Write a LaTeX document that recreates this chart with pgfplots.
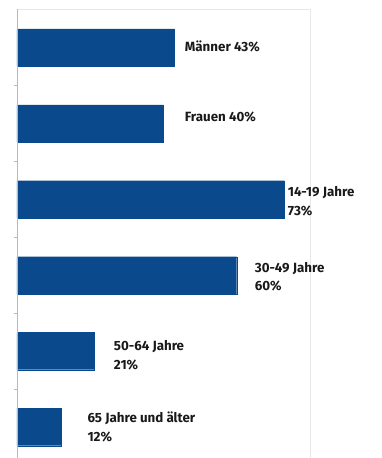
\documentclass[border=0pt]{standalone}
\usepackage{pgfplots}
\pgfplotsset{compat=1.18}
\usepackage{fontspec}
\setmainfont{Fira Sans}
\definecolor{barblue}{HTML}{0A4A8C}
\begin{document}
\begin{tikzpicture}
\useasboundingbox (0,0) rectangle (382bp,458bp);
\begin{axis}[
  at={(17bp,-7bp)}, anchor=south west,
  scale only axis, width=293bp, height=455.5bp,
  xmin=0, xmax=80, ymin=-0.5, ymax=5.5,
  xtick=\empty, ytick={0.5,1.5,2.5,3.5,4.5}, yticklabels={},
  ytick pos=left, tick align=outside, major tick length=3bp,
  tick style={draw=gray!55, line width=0.6pt},
  axis line style={draw=gray!18, line width=0.8pt},
  clip=false,
]
\addplot[xbar, bar width=0.49, fill=barblue, draw=barblue, line width=0.2pt]
  coordinates {(43,5) (40,4) (73,3) (60,2) (21,1) (12,0)};
\addplot[draw=none, mark=none, nodes near coords, point meta=explicit symbolic,
  every node near coord/.style={anchor=west, align=left, inner sep=0pt,
    font=\bfseries\fontsize{13.4}{19}\selectfont, text=black!90}]
  coordinates {
    (45.8,5.02) [{Männer 43\%}]
    (45.8,4.09) [{Frauen 40\%}]
    (73.9,2.97) [{14-19 Jahre\\73\%}]
    (64.9,1.98) [{30-49 Jahre\\60\%}]
    (26.4,0.95) [{50-64 Jahre\\21\%}]
    (19.2,0.0) [{65 Jahre und älter\\12\%}]
  };
\draw[gray!55, line width=0.8pt] (rel axis cs:0,0) -- (rel axis cs:0,1);
\end{axis}
\end{tikzpicture}
\end{document}
